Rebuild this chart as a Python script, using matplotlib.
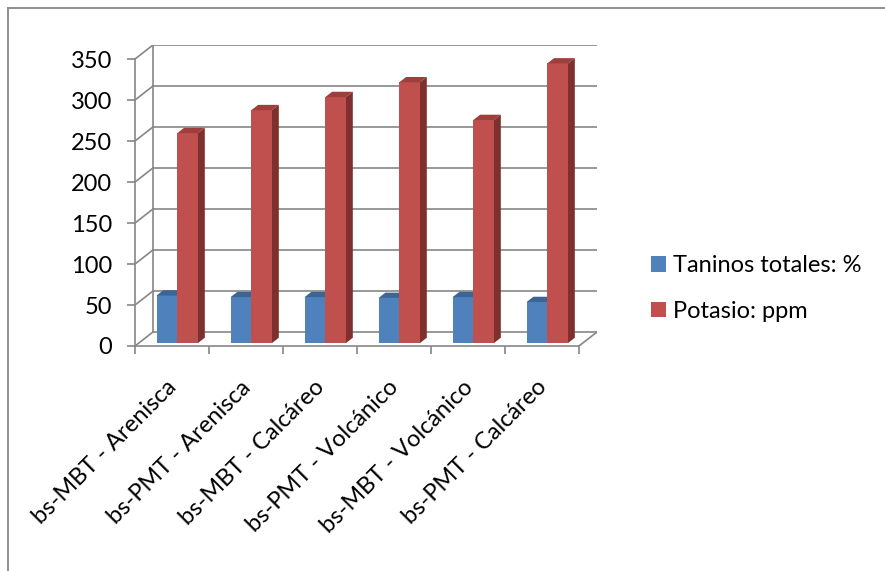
import matplotlib.pyplot as plt
import matplotlib.transforms as mtransforms
from matplotlib.patches import Polygon
from matplotlib.lines import Line2D

plt.rcParams['font.family'] = ['Lato', 'DejaVu Sans']

# data
categories = ["bs-MBT - Arenisca", "bs-PMT - Arenisca", "bs-MBT - Calcáreo",
              "bs-PMT - Volcánico", "bs-MBT - Volcánico", "bs-PMT - Calcáreo"]
taninos = [58, 56, 56, 55, 56, 50]
potasio = [256, 284, 300, 318, 272, 341]
series_names = ["Taninos totales: %", "Potasio: ppm"]
yticks = [0, 50, 100, 150, 200, 250, 300, 350]

# fake 3d: full floor depth as an (x, y) offset in data units
DX, DY = 0.243, 17.1
D0, BD = 0.21, 0.38      # bar front plane and bar depth, as fractions of the floor depth
BAR_W = 0.28
BAR_START = 0.24
FS = 17

grid_c = "#868686"
fronts = ["#4F81BD", "#C0504D"]
tops = ["#3B6595", "#9E3F3D"]
sides = ["#375B87", "#7D302E"]

fig = plt.figure(figsize=(8.85, 5.71), dpi=100)
W, H = 885, 571
ax = fig.add_axes([135 / W, (H - 346) / H, (597 - 135) / W, (346 - 45) / H])
n = len(categories)
ymax = yticks[-1]
ax.set_xlim(0, n + DX)
ax.set_ylim(0, ymax + DY)

# back wall, side wall and floor
for v in yticks:
    ax.plot([DX, n + DX], [v + DY, v + DY], color=grid_c, lw=1.2, zorder=1)
    ax.plot([0, DX], [v, v + DY], color=grid_c, lw=1.2, zorder=1)
ax.plot([DX, DX], [DY, ymax + DY], color=grid_c, lw=1.2, zorder=1)
ax.plot([n, n + DX], [0, DY], color=grid_c, lw=1.2, zorder=1)

# columns
for i in range(n):
    for s, vals in enumerate([taninos, potasio]):
        v = vals[i]
        x0 = i + BAR_START + s * BAR_W + D0 * DX
        b = D0 * DY
        ax.bar(x0, v, width=BAR_W, bottom=b, align='edge', color=fronts[s],
               edgecolor='none', zorder=3 + i * 2 + s,
               label=series_names[s] if i == 0 else None)
        ddx, ddy = BD * DX, BD * DY
        top = Polygon([(x0, b + v), (x0 + BAR_W, b + v),
                       (x0 + BAR_W + ddx, b + v + ddy), (x0 + ddx, b + v + ddy)],
                      closed=True, facecolor=tops[s], edgecolor='none',
                      zorder=3 + i * 2 + s)
        side = Polygon([(x0 + BAR_W, b), (x0 + BAR_W, b + v),
                        (x0 + BAR_W + ddx, b + v + ddy), (x0 + BAR_W + ddx, b + ddy)],
                       closed=True, facecolor=sides[s], edgecolor='none',
                       zorder=3 + i * 2 + s)
        ax.add_patch(top)
        ax.add_patch(side)

# axes
for sp in ["top", "right"]:
    ax.spines[sp].set_visible(False)
ax.spines["left"].set_bounds(0, ymax)
ax.spines["bottom"].set_bounds(0, n)
for sp in ["left", "bottom"]:
    ax.spines[sp].set_color(grid_c)
    ax.spines[sp].set_linewidth(1.2)
    ax.spines[sp].set_zorder(2)

ax.set_yticks(yticks)
ax.set_yticklabels([str(t) for t in yticks], fontsize=FS, color="#000000")
ax.tick_params(axis='y', length=5.5, width=1.2, color=grid_c, pad=11)

ax.set_xticks(range(n + 1), minor=True)
ax.set_xticks([i + 0.5 for i in range(n)])
ax.set_xticklabels(categories, rotation=45, ha='right', rotation_mode='anchor',
                   fontsize=FS)
ax.tick_params(axis='x', which='major', length=0, pad=22)
ax.tick_params(axis='x', which='minor', length=5.5, width=1.2, color=grid_c)
# nudge the slanted labels a little to the left
shift = mtransforms.ScaledTranslation(-6 / 100, 0, fig.dpi_scale_trans)
for lbl in ax.get_xticklabels():
    lbl.set_transform(lbl.get_transform() + shift)

leg = fig.legend(loc='upper left', bbox_to_anchor=(651 / W, 1 - 255 / H),
                 frameon=False, fontsize=FS, handlelength=0.64, handleheight=0.64,
                 handletextpad=0.3, labelspacing=1.05, borderpad=0, borderaxespad=0)

# chart area border
fig.add_artist(Line2D([8 / W, 8 / W], [0, 1 - 8 / H], color="#888888", lw=1.3))
fig.add_artist(Line2D([8 / W, 1], [1 - 8 / H, 1 - 8 / H], color="#888888", lw=1.3))

fig.savefig("out.png", dpi=100)
